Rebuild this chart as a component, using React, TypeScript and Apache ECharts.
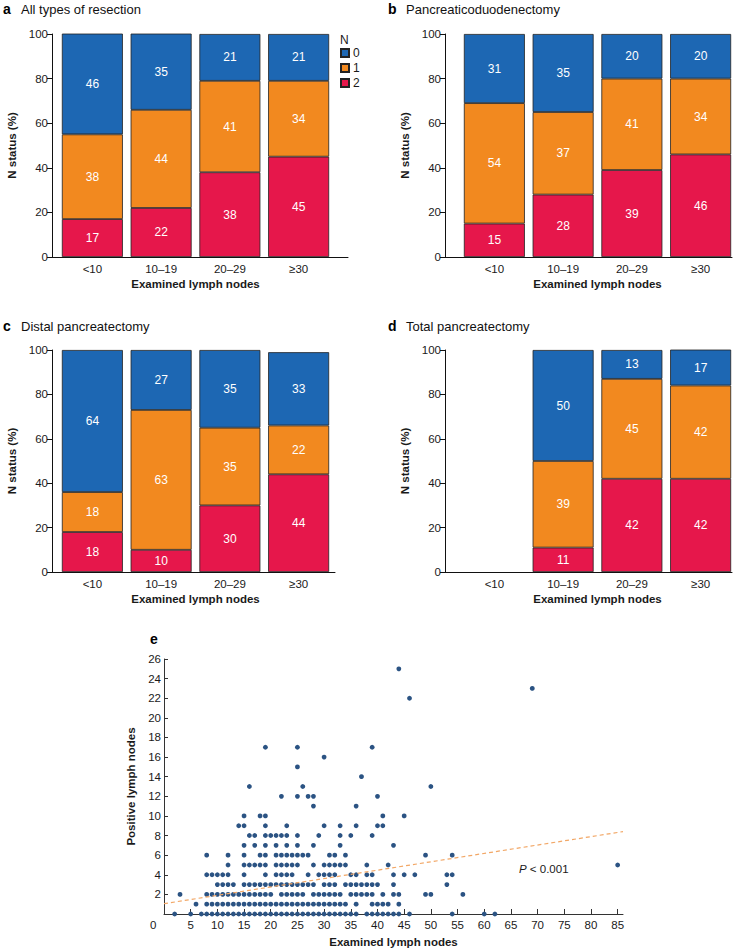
import React, { useEffect, useRef } from 'react';
import * as echarts from 'echarts';

// ---------- Bar panels data ----------
const categories = ['<10', '10–19', '20–29', '≥30'];
const statusNames = ['0', '1', '2'];

const allN0 = [46, 35, 21, 21];
const allN1 = [38, 44, 41, 34];
const allN2 = [17, 22, 38, 45];

const pdN0 = [31, 35, 20, 20];
const pdN1 = [54, 37, 41, 34];
const pdN2 = [15, 28, 39, 46];

const distalN0 = [64, 27, 35, 33];
const distalN1 = [18, 63, 35, 22];
const distalN2 = [18, 10, 30, 44];

const totalN0 = [null, 50, 13, 17];
const totalN1 = [null, 39, 45, 42];
const totalN2 = [null, 11, 42, 42];

const panelTitles = [
  ['a', 'All types of resection'],
  ['b', 'Pancreaticoduodenectomy'],
  ['c', 'Distal pancreatectomy'],
  ['d', 'Total pancreatectomy'],
];

const yTicksPercent = { min: 0, max: 100, interval: 20 };

// ---------- Scatter data: [positive nodes, examined nodes list] ----------
const scatterRows: [number, number[]][] = [
  [0, [2, 5, 7, 8, 9, 10, 11, 12, 13, 14, 15, 16, 17, 18, 19, 20, 21, 22, 23, 24, 25, 26, 27, 28, 29, 30, 31, 32, 33, 34, 35, 36, 38, 39, 40, 41, 42, 43, 44, 46, 54, 60, 62]],
  [1, [6, 8, 9, 10, 11, 12, 13, 14, 15, 16, 17, 18, 19, 20, 21, 22, 23, 24, 25, 26, 27, 28, 29, 30, 31, 32, 33, 34, 36, 39, 40, 41, 42, 44]],
  [2, [3, 8, 9, 10, 11, 12, 13, 14, 15, 16, 17, 18, 19, 20, 22, 23, 24, 25, 26, 28, 29, 30, 31, 32, 33, 35, 36, 37, 38, 39, 41, 43, 44, 49, 50, 56]],
  [3, [10, 11, 12, 13, 15, 16, 17, 18, 19, 20, 21, 22, 23, 24, 25, 26, 27, 28, 30, 31, 32, 34, 35, 36, 37, 38, 39, 40, 43, 53]],
  [4, [8, 9, 10, 11, 12, 15, 19, 21, 22, 23, 24, 27, 29, 30, 31, 32, 35, 36, 38, 39, 43, 45, 47, 53, 54]],
  [5, [12, 15, 16, 17, 18, 19, 21, 22, 23, 24, 25, 28, 30, 31, 32, 33, 34, 38, 42, 85]],
  [6, [8, 12, 15, 18, 19, 21, 22, 23, 24, 25, 26, 27, 31, 32, 34, 49, 54]],
  [7, [15, 17, 19, 21, 23, 25, 28, 33, 43]],
  [8, [16, 17, 19, 20, 21, 22, 23, 25, 29, 33, 35, 39]],
  [9, [14, 15, 19, 23, 30, 33, 36, 40, 41]],
  [10, [15, 18, 19, 41, 45]],
  [11, [28, 36]],
  [12, [22, 25, 27, 28, 40]],
  [13, [16, 26, 50]],
  [14, [37]],
  [15, [25]],
  [16, [30]],
  [17, [19, 25, 39]],
  [22, [46]],
  [23, [69]],
  [25, [44]],
];

const regressionLine = [
  [0, 1.05],
  [86, 8.4],
];

const scatterXTicks = [0, 5, 10, 15, 20, 25, 30, 35, 40, 45, 50, 55, 60, 65, 70, 75, 80, 85];

const COLORS = { n0: '#1d67b3', n1: '#f2891f', n2: '#e6174b' };
const FONT = 'Liberation Sans, Arial, Helvetica, sans-serif';
const TXT = '#1a1a1a';

export default function App() {
  const ref = useRef<HTMLDivElement>(null);

  useEffect(() => {
    if (!ref.current) return;
    const chart = echarts.init(ref.current, undefined, { renderer: 'svg' });

    // frame = axis-line box; bars = band area for the four categories
    const panels = [
      { n0: allN0, n1: allN1, n2: allN2, frameLeft: 52, frameWidth: 296, barLeft: 58, top: 34, height: 223, titleLeft: 3, titleTop: 2 },
      { n0: pdN0, n1: pdN1, n2: pdN2, frameLeft: 445, frameWidth: 287, barLeft: 460, top: 34, height: 223, titleLeft: 388, titleTop: 2 },
      { n0: distalN0, n1: distalN1, n2: distalN2, frameLeft: 52, frameWidth: 283, barLeft: 58, top: 350, height: 222, titleLeft: 3, titleTop: 319 },
      { n0: totalN0, n1: totalN1, n2: totalN2, frameLeft: 445, frameWidth: 287, barLeft: 460, top: 350, height: 222, titleLeft: 388, titleTop: 319 },
    ];
    const BAND_WIDTH = 275;

    const grids: any[] = [];
    const xAxes: any[] = [];
    const yAxes: any[] = [];
    const series: any[] = [];
    const titles: any[] = [];

    panels.forEach((p, i) => {
      const fIdx = i * 2;
      const bIdx = i * 2 + 1;
      grids.push({ left: p.frameLeft, top: p.top, width: p.frameWidth, height: p.height });
      grids.push({ left: p.barLeft, top: p.top, width: BAND_WIDTH, height: p.height });

      xAxes.push({
        type: 'value',
        gridIndex: fIdx,
        min: 0,
        max: 1,
        splitLine: { show: false },
        axisLine: { show: true, onZero: false, lineStyle: { color: '#111', width: 1 } },
        axisTick: { show: false },
        axisLabel: { show: false },
      });
      xAxes.push({
        type: 'category',
        gridIndex: bIdx,
        data: categories,
        axisLine: { show: false },
        axisTick: { show: false },
        axisLabel: { color: TXT, fontSize: 11.5, margin: 6 },
        name: 'Examined lymph nodes',
        nameLocation: 'middle',
        nameGap: 21,
        nameTextStyle: { fontWeight: 'bold', fontSize: 11.5, color: TXT },
      });
      yAxes.push({
        type: 'value',
        gridIndex: fIdx,
        min: yTicksPercent.min,
        max: yTicksPercent.max,
        interval: yTicksPercent.interval,
        splitLine: { show: false },
        axisLine: { show: true, onZero: false, lineStyle: { color: '#111', width: 1 } },
        axisTick: { show: true, length: 5, lineStyle: { color: '#111' } },
        axisLabel: { color: TXT, fontSize: 11.5, margin: 4 },
        name: 'N status (%)',
        nameLocation: 'middle',
        nameGap: 34,
        nameTextStyle: { fontWeight: 'bold', fontSize: 11.5, color: TXT },
      });
      yAxes.push({
        type: 'value',
        gridIndex: bIdx,
        min: yTicksPercent.min,
        max: yTicksPercent.max,
        show: false,
        splitLine: { show: false },
      });

      const mk = (name: string, vals: (number | null)[], color: string) => ({
        type: 'bar',
        name,
        xAxisIndex: bIdx,
        yAxisIndex: bIdx,
        stack: 'p' + i,
        barWidth: 61,
        data: vals,
        itemStyle: { color, borderColor: '#222', borderWidth: 0.8 },
        label: {
          show: true,
          position: 'inside',
          color: '#fff',
          fontSize: 12,
          formatter: (pr: any) => (pr.value == null ? '' : String(pr.value)),
        },
      });
      series.push(mk(statusNames[2], p.n2, COLORS.n2));
      series.push(mk(statusNames[1], p.n1, COLORS.n1));
      series.push(mk(statusNames[0], p.n0, COLORS.n0));

      titles.push({
        left: p.titleLeft,
        top: p.titleTop,
        padding: 0,
        text: `{l|${panelTitles[i][0]}}{t|${panelTitles[i][1]}}`,
        textStyle: {
          fontWeight: 'normal',
          rich: {
            l: { fontWeight: 'bold', fontSize: 14, color: '#000', width: 18, fontFamily: FONT },
            t: { fontWeight: 'normal', fontSize: 13, color: '#111', fontFamily: FONT },
          },
        },
      });
    });

    // Scatter panel
    const sIdx = grids.length;
    grids.push({ left: 164, top: 659, width: 459, height: 255 });
    xAxes.push({
      type: 'value',
      gridIndex: sIdx,
      min: 0,
      max: 86,
      splitLine: { show: false },
      axisLine: { onZero: false, lineStyle: { color: '#333', width: 1 } },
      axisTick: { show: true, inside: true, length: 5, customValues: scatterXTicks, lineStyle: { color: '#333' } },
      axisLabel: {
        customValues: scatterXTicks,
        formatter: (v: number) => (v === 0 ? '' : String(v)),
        color: TXT,
        fontSize: 11.5,
        margin: 5,
      },
      name: 'Examined lymph nodes',
      nameLocation: 'middle',
      nameGap: 22,
      nameTextStyle: { fontWeight: 'bold', fontSize: 11.5, color: TXT },
    });
    yAxes.push({
      type: 'value',
      gridIndex: sIdx,
      min: 0,
      max: 26,
      interval: 2,
      splitLine: { show: false },
      axisLine: { show: true, onZero: false, lineStyle: { color: '#333', width: 1 } },
      axisTick: { show: true, inside: true, length: 4, lineStyle: { color: '#333' } },
      axisLabel: {
        formatter: (v: number) => (v === 0 ? '' : String(v)),
        color: TXT,
        fontSize: 11.5,
        margin: 3,
      },
      name: 'Positive lymph nodes',
      nameLocation: 'middle',
      nameGap: 24,
      nameTextStyle: { fontWeight: 'bold', fontSize: 11.5, color: TXT },
    });

    const points: number[][] = [];
    scatterRows.forEach(([y, xs]) => xs.forEach((x) => points.push([x, y])));

    series.push({
      type: 'scatter',
      name: 'nodes',
      xAxisIndex: sIdx,
      yAxisIndex: sIdx,
      symbolSize: 4.8,
      itemStyle: { color: '#2b5383', opacity: 1 },
      data: points,
      z: 2,
    });
    series.push({
      type: 'line',
      name: 'trend',
      xAxisIndex: sIdx,
      yAxisIndex: sIdx,
      data: regressionLine,
      showSymbol: false,
      symbol: 'none',
      lineStyle: { color: '#f2a766', width: 1.2, type: [4, 3] },
      z: 3,
    });

    const option: any = {
      animation: false,
      textStyle: { fontFamily: FONT },
      title: titles,
      grid: grids,
      xAxis: xAxes,
      yAxis: yAxes,
      legend: {
        data: statusNames,
        orient: 'vertical',
        left: 340,
        top: 47,
        padding: 0,
        itemWidth: 8,
        itemHeight: 8,
        itemGap: 3,
        icon: 'rect',
        selectedMode: false,
        textStyle: { fontSize: 12, color: TXT, padding: [0, 0, 0, -1] },
      },
      graphic: [
        { type: 'text', left: 340, top: 34, style: { text: 'N', fontSize: 12, fill: TXT, fontFamily: FONT } },
        { type: 'text', left: 150, top: 632, style: { text: 'e', fontSize: 14, fontWeight: 'bold', fill: '#000', fontFamily: FONT } },
        { type: 'text', left: 150, top: 919, style: { text: '0', fontSize: 11.5, fill: TXT, fontFamily: FONT } },
        {
          type: 'text',
          left: 519,
          top: 863,
          style: {
            text: '{i|P} < 0.001',
            fontSize: 11.5,
            fill: TXT,
            fontFamily: FONT,
            rich: { i: { fontStyle: 'italic', fontSize: 11.5, fill: TXT, fontFamily: FONT } },
          },
        },
      ],
      series,
    };

    chart.setOption(option);
    return () => chart.dispose();
  }, []);

  return (
    <div
      ref={ref}
      style={{ position: 'absolute', left: 0, top: 0, width: 750, height: 949, background: '#fff' }}
    />
  );
}
